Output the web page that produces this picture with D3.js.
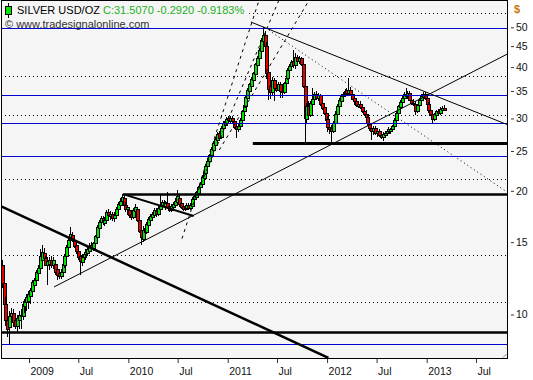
<!DOCTYPE html>
<html>
<head>
<meta charset="utf-8">
<script src="https://cdn.jsdelivr.net/npm/d3@7"></script>
<style>
  body { margin: 0; background: #ffffff; }
  svg text { font-family: "Liberation Sans", Arial, sans-serif; }
</style>
</head>
<body>
<svg id="chart" width="533" height="380"></svg>
<script>
// Weekly silver candles with the drawn support / trend lines of the reference.
// Data first, then scales, then the layers: grid, candles, lines, axes, header.

/* weekly bars: first bar date, then open / high / low / close per week */
var firstWeek = "2008-09-26";
var opens = [
  13.2, 11.9, 10.6, 9.7, 9.3, 9.9, 10.1, 9.7, 9.4, 9.7,
  10.0, 9.9, 10.5, 10.7, 10.8, 11.1, 11.4, 11.8, 12.1, 12.6,
  13.0, 13.6, 14.1, 13.7, 13.2, 13.3, 13.6, 13.2, 13.3, 12.9,
  12.6, 12.4, 12.7, 13.2, 13.9, 14.6, 15.2, 15.6, 15.2, 14.8,
  14.3, 13.9, 13.4, 13.8, 14.0, 14.1, 14.3, 14.8, 14.5, 14.9,
  15.4, 16.2, 16.8, 17.2, 16.7, 17.0, 17.8, 17.4, 17.6, 17.2,
  17.5, 18.1, 18.5, 18.9, 19.2, 18.5, 18.1, 18.0, 17.6, 17.3,
  17.9, 18.1, 17.0, 16.1, 15.3, 16.2, 15.9, 16.5, 17.0, 17.3,
  17.5, 17.9, 17.6, 18.1, 18.5, 18.8, 18.4, 18.7, 18.4, 18.0,
  18.3, 18.5, 18.8, 19.2, 18.7, 18.4, 18.1, 18.2, 18.5, 18.2,
  18.4, 19.1, 19.3, 19.8, 20.4, 20.8, 21.5, 22.1, 23.0, 23.6,
  24.4, 25.1, 25.8, 26.6, 27.6, 27.0, 28.4, 29.0, 29.3, 30.0,
  29.6, 30.1, 29.5, 28.7, 28.2, 28.8, 29.7, 31.2, 32.2, 33.7,
  35.0, 36.0, 37.3, 38.5, 40.5, 42.0, 43.8, 46.4, 48.0, 45.0,
  38.9, 36.0, 34.8, 37.3, 35.6, 35.2, 36.3, 35.0, 34.8, 36.5,
  37.6, 39.3, 40.2, 41.4, 40.4, 42.4, 41.4, 42.0, 40.8, 36.0,
  29.9, 32.2, 30.6, 32.6, 33.4, 34.4, 33.6, 34.2, 32.7, 31.9,
  31.0, 29.9, 28.6, 28.4, 27.9, 29.2, 30.8, 32.1, 33.1, 34.0,
  34.4, 35.1, 34.6, 35.2, 34.4, 33.6, 33.0, 32.2, 32.6, 31.9,
  31.3, 30.8, 30.3, 29.2, 28.4, 27.9, 28.4, 27.6, 28.0, 27.4,
  27.1, 27.4, 27.7, 27.9, 27.9, 28.2, 28.7, 29.8, 31.0, 32.0,
  32.9, 33.6, 34.5, 34.0, 34.6, 33.3, 32.8, 32.5, 31.2, 32.3,
  33.3, 33.9, 34.4, 33.6, 32.6, 31.4, 30.8, 29.9, 30.6, 31.2,
  30.9, 31.5, 31.8
];
var highs = [
  13.6, 12.3, 11.0, 10.3, 10.2, 10.4, 10.3, 10.0, 10.0, 10.2,
  10.3, 10.8, 10.9, 11.2, 11.4, 11.6, 12.1, 12.3, 12.8, 13.2,
  14.4, 14.8, 14.5, 13.9, 13.8, 13.8, 13.9, 13.8, 13.5, 13.2,
  12.9, 12.9, 13.4, 14.0, 14.8, 15.4, 16.3, 15.9, 15.4, 15.1,
  14.6, 14.2, 14.0, 14.2, 14.4, 14.6, 14.9, 15.0, 15.0, 15.6,
  16.5, 17.0, 17.4, 17.4, 17.3, 18.0, 18.1, 17.9, 17.8, 17.8,
  18.3, 18.8, 19.2, 19.7, 19.4, 18.8, 18.5, 18.3, 17.9, 18.2,
  18.6, 18.3, 17.3, 16.5, 16.4, 16.6, 16.8, 17.3, 17.6, 17.8,
  18.2, 18.2, 18.4, 19.6, 19.0, 19.0, 18.9, 19.9, 18.6, 18.6,
  18.8, 19.2, 20.1, 19.5, 18.9, 18.6, 18.5, 18.7, 18.7, 18.7,
  19.3, 19.6, 20.0, 20.6, 21.0, 21.8, 22.4, 23.3, 24.0, 24.6,
  25.6, 26.5, 27.0, 27.8, 28.0, 28.8, 29.5, 29.8, 30.2, 30.5,
  30.4, 30.5, 29.8, 29.0, 29.1, 30.0, 31.5, 32.6, 34.0, 35.5,
  36.6, 37.8, 39.0, 40.9, 42.5, 44.5, 47.0, 50.0, 49.0, 46.0,
  39.8, 37.8, 37.8, 37.7, 36.2, 36.8, 36.7, 35.5, 36.8, 38.0,
  39.8, 40.8, 41.6, 44.0, 43.2, 42.8, 42.5, 42.4, 41.6, 36.5,
  32.8, 33.0, 33.0, 35.6, 34.8, 34.9, 34.6, 34.5, 33.3, 32.6,
  31.6, 30.4, 29.5, 29.0, 29.6, 31.2, 32.5, 33.6, 34.5, 34.8,
  35.4, 35.6, 37.6, 35.7, 34.9, 34.0, 33.5, 33.0, 33.0, 32.4,
  31.8, 31.4, 30.7, 29.7, 29.2, 28.8, 28.7, 28.3, 28.2, 27.9,
  27.8, 28.0, 28.3, 28.6, 28.5, 28.9, 30.0, 31.3, 32.4, 33.2,
  34.0, 34.8, 35.5, 35.0, 34.9, 33.8, 33.4, 33.0, 32.6, 33.6,
  34.4, 34.8, 34.8, 34.0, 32.9, 31.8, 31.2, 31.0, 31.5, 31.6,
  31.9, 32.2, 32.3
];
var lows = [
  11.6, 10.4, 9.4, 8.8, 8.5, 9.3, 9.3, 9.2, 9.0, 9.2,
  9.2, 9.7, 10.1, 10.2, 10.3, 10.6, 11.2, 11.4, 11.9, 12.3,
  12.8, 13.3, 13.4, 13.1, 11.8, 12.8, 13.0, 12.9, 12.5, 12.1,
  12.2, 12.2, 12.4, 13.0, 13.6, 14.3, 15.0, 15.0, 14.5, 14.0,
  13.6, 12.5, 13.1, 13.5, 13.6, 13.9, 14.1, 14.2, 14.3, 14.6,
  15.2, 16.0, 16.4, 16.5, 16.4, 16.8, 17.2, 17.0, 16.9, 16.8,
  17.3, 17.8, 18.2, 18.5, 18.3, 17.8, 17.5, 17.2, 17.0, 17.1,
  17.6, 16.8, 15.8, 14.8, 15.0, 15.6, 15.7, 16.3, 16.8, 17.0,
  17.3, 17.3, 17.4, 17.9, 18.2, 18.2, 18.0, 18.1, 17.8, 17.8,
  18.0, 18.2, 18.5, 18.3, 18.1, 17.9, 17.9, 18.0, 18.0, 18.0,
  18.3, 18.8, 19.1, 19.5, 20.1, 20.5, 21.3, 21.9, 22.6, 23.3,
  24.0, 24.8, 25.4, 26.2, 26.4, 26.8, 28.0, 28.6, 29.0, 29.4,
  29.2, 29.3, 28.3, 26.9, 27.8, 28.5, 29.4, 30.8, 31.8, 33.2,
  34.3, 35.6, 36.6, 38.0, 40.0, 41.4, 43.2, 45.8, 44.0, 37.5,
  33.2, 33.5, 34.2, 33.0, 34.8, 34.9, 33.7, 33.6, 34.5, 36.0,
  37.2, 38.8, 39.6, 39.8, 39.5, 41.0, 40.8, 40.3, 35.5, 26.1,
  29.3, 30.0, 30.3, 32.2, 33.0, 33.2, 33.0, 32.2, 31.4, 30.6,
  29.5, 27.8, 27.5, 26.2, 27.6, 28.9, 30.2, 31.8, 32.8, 33.2,
  33.8, 34.2, 34.2, 34.0, 33.2, 32.4, 32.0, 31.8, 31.6, 30.9,
  30.5, 30.0, 28.8, 28.0, 26.6, 27.4, 27.3, 27.0, 27.0, 26.8,
  26.5, 27.0, 27.2, 27.5, 27.5, 27.8, 28.4, 29.5, 30.6, 31.6,
  32.3, 33.1, 33.6, 33.5, 33.0, 32.4, 32.1, 30.6, 30.9, 32.0,
  32.9, 33.4, 33.3, 32.3, 31.0, 30.4, 29.3, 29.6, 30.3, 30.5,
  30.6, 31.2, 31.3
];
var closes = [
  11.9, 10.6, 9.7, 9.2, 9.9, 10.1, 9.6, 9.4, 9.8, 10.0,
  9.9, 10.6, 10.7, 11.0, 11.2, 11.5, 12.0, 12.1, 12.7, 13.0,
  13.9, 14.2, 13.7, 13.2, 13.5, 13.6, 13.2, 13.6, 12.7, 12.5,
  12.4, 12.7, 13.3, 13.9, 14.6, 15.2, 15.7, 15.2, 14.7, 14.3,
  13.8, 13.5, 13.8, 14.0, 14.2, 14.4, 14.7, 14.5, 14.9, 15.5,
  16.3, 16.8, 17.2, 16.8, 17.0, 17.8, 17.5, 17.6, 17.2, 17.5,
  18.1, 18.6, 18.9, 19.3, 18.5, 18.1, 18.3, 17.5, 17.3, 18.0,
  18.3, 17.0, 16.0, 15.4, 16.1, 15.9, 16.6, 17.1, 17.4, 17.6,
  18.0, 17.6, 18.2, 18.5, 18.8, 18.4, 18.7, 18.3, 18.0, 18.4,
  18.6, 18.9, 19.4, 18.6, 18.3, 18.1, 18.4, 18.5, 18.2, 18.5,
  19.1, 19.4, 19.9, 20.4, 20.8, 21.6, 22.2, 23.0, 23.7, 24.4,
  25.3, 26.2, 26.8, 27.5, 26.9, 28.5, 29.2, 29.5, 29.9, 29.7,
  30.1, 29.5, 28.6, 28.2, 28.8, 29.7, 31.2, 32.3, 33.8, 35.2,
  36.3, 37.5, 38.6, 40.6, 42.2, 44.0, 46.6, 48.0, 45.0, 38.6,
  35.4, 34.8, 37.3, 35.6, 35.2, 36.3, 35.0, 34.8, 36.5, 37.7,
  39.4, 40.3, 41.2, 40.5, 42.4, 41.5, 42.0, 40.8, 36.0, 30.0,
  32.2, 30.6, 32.7, 33.5, 34.4, 33.6, 34.2, 32.6, 31.8, 31.0,
  29.8, 28.6, 28.2, 27.9, 29.3, 30.8, 32.2, 33.2, 34.1, 34.5,
  35.0, 34.6, 35.2, 34.4, 33.5, 33.0, 32.3, 32.6, 31.9, 31.3,
  30.8, 30.3, 29.2, 28.4, 28.0, 28.4, 27.6, 28.0, 27.3, 27.1,
  27.5, 27.7, 27.9, 28.3, 28.2, 28.7, 29.8, 31.0, 32.1, 32.9,
  33.6, 34.4, 34.0, 34.6, 33.3, 32.8, 32.5, 31.2, 32.3, 33.3,
  34.0, 34.5, 33.6, 32.6, 31.4, 30.8, 29.9, 30.7, 31.2, 30.9,
  31.6, 31.8, 31.507
];

/* axis ticks */
var timeTicks = ["2009-01-01", "2009-07-01", "2010-01-01", "2010-07-01", "2011-01-01",
                 "2011-07-01", "2012-01-01", "2012-07-01", "2013-01-01", "2013-07-01"];
var timeTickLabels = ["2009", "Jul", "2010", "Jul", "2011", "Jul", "2012", "Jul", "2013", "Jul"];
var priceTicks = [10, 15, 20, 25, 30, 35, 40, 45, 50];

/* horizontal levels */
var gridLevels = [54.05, 38.04, 30.58, 21.36, 13.96, 10.71];
var blueLevels = [49.7, 34.2, 29.2, 24.3, 8.47];
var supportStarts = ["2011-04-03", "2009-12-12", "2008-09-01"];
var supportValues = [26.14, 19.63, 9.09];

/* drawn trend lines, anchored by [date, price] */
var trendFrom = [["2008-09-23", 18.3], ["2009-04-03", 11.67], ["2011-03-27", 51.5], ["2011-06-01", 49.2],
                 ["2009-12-15", 19.6], ["2010-07-17", 15.3], ["2010-09-15", 20.09], ["2010-12-01", 25.14]];
var trendTo = [["2012-01-06", 7.84], ["2013-10-23", 43.0], ["2013-10-23", 29.0], ["2013-10-23", 19.86],
               ["2010-08-29", 17.37], ["2011-04-26", 58.2], ["2011-07-08", 58.2], ["2011-10-27", 58.2]];
var trendKind = ["thick", "thin", "thin", "dotted", "medium", "dashed", "dashed", "dashed"];

/* header texts */
var symbolName = "SILVER USD/OZ";
var quoteText = "C:31.5070 -0.2920 -0.9183%";
var sourceText = "\u00a9 www.tradesignalonline.com";

/* layout and colours */
var plot = {left: 1, top: 0, right: 507, bottom: 358};
var colors = {bg: "#f5f5f5", up: "#00e600", down: "#e60000", blue: "#0000d0", quote: "#22b022", dollar: "#c87800"};
var lineStyle = {
  thick: {width: 2.5, dash: null},
  medium: {width: 2, dash: null},
  thin: {width: 1, dash: null},
  dotted: {width: 1, dash: "1,3"},
  dashed: {width: 1, dash: "3,4"}
};

var parse = function (s) { return new Date(s + "T00:00:00Z"); };

/* scales: time runs linearly, price on a log axis */
var x = d3.scaleUtc()
    .domain([parse("2009-01-01"), parse("2013-01-01")])
    .range([29, 426.7]);
var y = d3.scaleLog()
    .domain([10, 50])
    .range([314.5, 27.3]);

var bars = closes.map(function (c, i) {
  return {
    date: d3.utcDay.offset(parse(firstWeek), 7 * i),
    o: opens[i], h: highs[i], l: lows[i], c: c
  };
});

var svg = d3.select("#chart");
var crisp = function (v) { return Math.round(v) + 0.5; };

svg.append("defs").append("clipPath").attr("id", "plotClip")
  .append("rect")
  .attr("x", plot.left).attr("y", plot.top)
  .attr("width", plot.right - plot.left).attr("height", plot.bottom - plot.top);

/* plot background */
svg.append("rect")
  .attr("x", plot.left).attr("y", plot.top)
  .attr("width", plot.right - plot.left).attr("height", plot.bottom - plot.top)
  .attr("fill", colors.bg);

var inner = svg.append("g").attr("clip-path", "url(#plotClip)");

/* dotted grid levels */
inner.append("g").selectAll("line")
  .data(gridLevels).enter().append("line")
  .attr("x1", plot.left).attr("x2", plot.right)
  .attr("y1", function (d) { return crisp(y(d)); })
  .attr("y2", function (d) { return crisp(y(d)); })
  .attr("stroke", "#000").attr("stroke-width", 1)
  .attr("stroke-dasharray", "1,3");

/* candles: black 4px body with a 2px coloured core, 1px wick */
var candle = inner.append("g").selectAll("g")
  .data(bars).enter().append("g");
candle.append("line")
  .attr("x1", function (d) { return Math.round(x(d.date)) - 0.5; })
  .attr("x2", function (d) { return Math.round(x(d.date)) - 0.5; })
  .attr("y1", function (d) { return Math.round(y(d.h)); })
  .attr("y2", function (d) { return Math.round(y(d.l)); })
  .attr("stroke", "#000").attr("stroke-width", 1);
candle.each(function (d) {
  var cx = Math.round(x(d.date));
  var top = Math.round(y(Math.max(d.o, d.c)));
  var bot = Math.round(y(Math.min(d.o, d.c)));
  var hgt = Math.max(2, bot - top + 1);
  var g = d3.select(this);
  g.append("rect")
    .attr("x", cx - 2).attr("y", top)
    .attr("width", 4).attr("height", hgt)
    .attr("fill", "#000");
  if (hgt > 2) {
    g.append("rect")
      .attr("x", cx - 1).attr("y", top + 1)
      .attr("width", 2).attr("height", hgt - 2)
      .attr("fill", d.c >= d.o ? colors.up : colors.down);
  }
});

/* blue horizontal levels */
inner.append("g").selectAll("line")
  .data(blueLevels).enter().append("line")
  .attr("x1", plot.left).attr("x2", plot.right)
  .attr("y1", function (d) { return crisp(y(d)); })
  .attr("y2", function (d) { return crisp(y(d)); })
  .attr("stroke", colors.blue).attr("stroke-width", 1);

/* heavy support lines */
inner.append("g").selectAll("line")
  .data(supportValues).enter().append("line")
  .attr("x1", function (d, i) { return Math.max(plot.left, x(parse(supportStarts[i]))); })
  .attr("x2", plot.right)
  .attr("y1", function (d) { return crisp(y(d)); })
  .attr("y2", function (d) { return crisp(y(d)); })
  .attr("stroke", "#000").attr("stroke-width", function (d, i) { return i === 0 ? 3 : 2.5; });

/* trend lines */
inner.append("g").selectAll("line")
  .data(trendKind).enter().append("line")
  .attr("x1", function (d, i) { return x(parse(trendFrom[i][0])); })
  .attr("y1", function (d, i) { return y(trendFrom[i][1]); })
  .attr("x2", function (d, i) { return x(parse(trendTo[i][0])); })
  .attr("y2", function (d, i) { return y(trendTo[i][1]); })
  .attr("stroke", "#000")
  .attr("stroke-width", function (d) { return lineStyle[d].width; })
  .attr("stroke-dasharray", function (d) { return lineStyle[d].dash; });

/* frame */
svg.append("rect")
  .attr("x", plot.left + 0.5).attr("y", plot.top + 0.5)
  .attr("width", plot.right - plot.left).attr("height", plot.bottom - plot.top)
  .attr("fill", "none").attr("stroke", "#000");

/* resize grip in the corner */
svg.append("path")
  .attr("d", "M" + (plot.right - 4) + "," + (plot.bottom - 0.5) + "L" + (plot.right - 0.5) + "," + (plot.bottom - 4))
  .attr("stroke", "#888").attr("fill", "none");

/* price axis on the right */
var yAxis = svg.append("g")
  .attr("transform", "translate(" + (plot.right + 4) + ",0)")
  .call(d3.axisRight(y).tickValues(priceTicks).tickSize(3).tickPadding(2)
    .tickFormat(d3.format("d")));
yAxis.select(".domain").remove();
yAxis.selectAll("text").attr("font-size", 10.5).attr("fill", "#111")
  .attr("font-family", "'Liberation Sans', Arial, sans-serif");
yAxis.selectAll(".tick line").attr("stroke", "#333");

svg.append("text")
  .attr("x", 514).attr("y", 13)
  .attr("font-size", 11).attr("font-weight", "bold")
  .attr("fill", colors.dollar)
  .text("$");

/* time axis below */
var xAxis = svg.append("g")
  .attr("transform", "translate(0," + (plot.bottom + 1) + ")")
  .call(d3.axisBottom(x).tickValues(timeTicks.map(parse)).tickSize(4)
    .tickFormat(function (d, i) { return timeTickLabels[i]; }));
xAxis.select(".domain").remove();
xAxis.selectAll(".tick line").attr("stroke", "#333");
xAxis.selectAll("text")
  .attr("text-anchor", "start").attr("x", 1).attr("y", 9)
  .attr("font-size", 10.5).attr("fill", "#111")
  .attr("font-family", "'Liberation Sans', Arial, sans-serif");

/* header: symbol + last quote on a background strip, source below */
var header = svg.append("g");
var headBg = header.append("rect").attr("fill", colors.bg);
var headText = header.append("text")
  .attr("x", 17).attr("y", 14)
  .attr("font-size", 11);
headText.append("tspan").attr("fill", "#000").text(symbolName + " ");
headText.append("tspan").attr("fill", colors.quote).text(quoteText);
var headLen = headText.node().getComputedTextLength();
headBg.attr("x", plot.left + 1).attr("y", 2)
  .attr("width", 17 + headLen + 3).attr("height", 15);

/* the little candle icon */
header.append("line")
  .attr("x1", 8.5).attr("x2", 8.5).attr("y1", 3).attr("y2", 18)
  .attr("stroke", "#000");
header.append("rect")
  .attr("x", 5.5).attr("y", 6.5).attr("width", 6).attr("height", 8)
  .attr("fill", colors.up).attr("stroke", "#000");

header.append("text")
  .attr("x", 5).attr("y", 28)
  .attr("font-size", 11).attr("fill", "#333")
  .text(sourceText);
</script>
</body>
</html>
